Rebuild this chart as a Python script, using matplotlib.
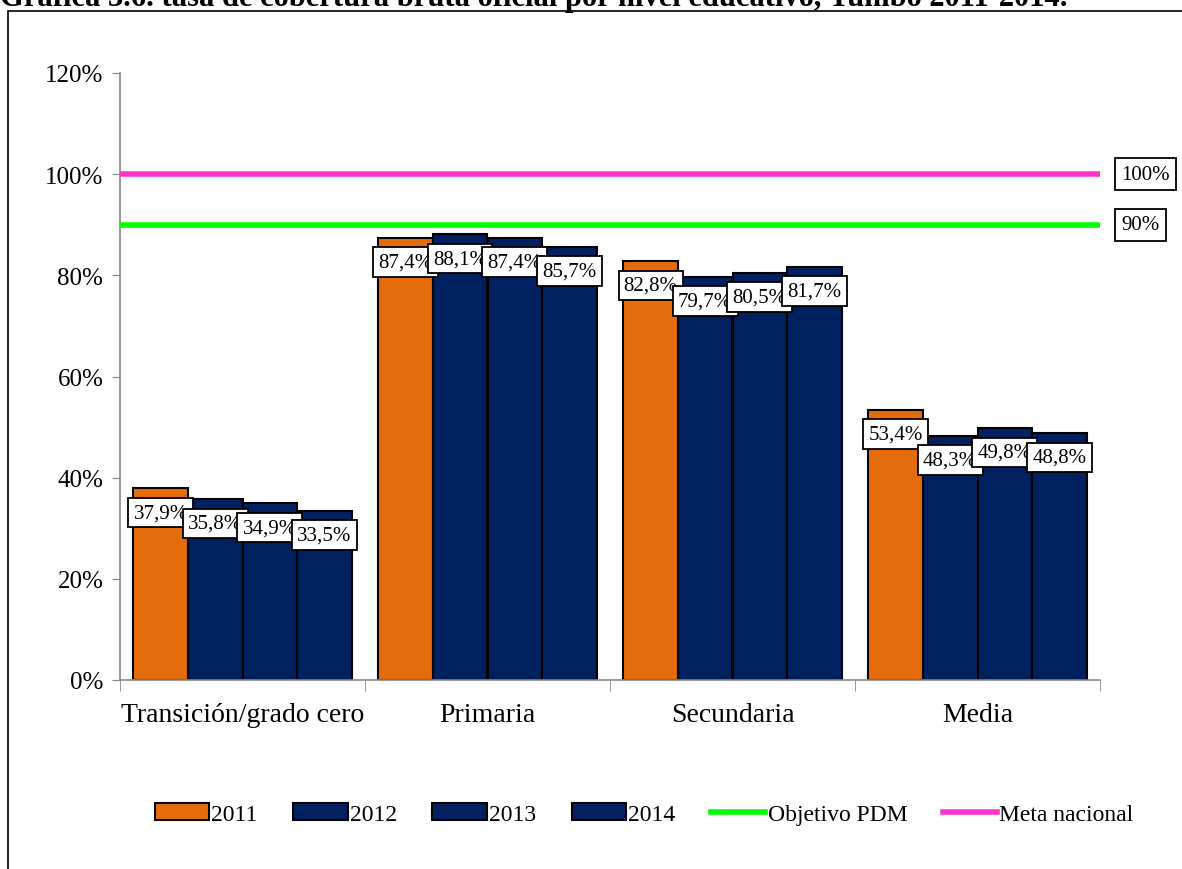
import numpy as np
import matplotlib.pyplot as plt
from matplotlib.patches import Rectangle

plt.rcParams['font.family'] = ['Liberation Serif', 'DejaVu Serif']

# DATA ############################################################

categories = ["Transición/grado cero", "Primaria", "Secundaria", "Media"]
years = ["2011", "2012", "2013", "2014"]

v2011 = [37.9, 87.4, 82.8, 53.4]
v2012 = [35.8, 88.1, 79.7, 48.3]
v2013 = [34.9, 87.4, 80.5, 49.8]
v2014 = [33.5, 85.7, 81.7, 48.8]

objetivo_pdm = 90.0
meta_nacional = 100.0

title = "Gráfica 3.6. tasa de cobertura bruta oficial por nivel educativo, Yumbo 2011-2014."

# STYLE ###########################################################

ORANGE = "#E46C0A"
NAVY = "#002060"
GREEN = "#00FF00"
MAGENTA = "#FF33CC"

series = [v2011, v2012, v2013, v2014]
colors = [ORANGE, NAVY, NAVY, NAVY]

# FIGURE ##########################################################

fig = plt.figure(figsize=(11.82, 8.70), dpi=100)
ax = fig.add_axes([120 / 1182, 1 - 681 / 870, 980 / 1182, 607 / 870])

# outer frame
fig.patches.append(Rectangle((8 / 1182, -0.05), 1.2, 1.05 - 12 / 870,
                             transform=fig.transFigure, fill=False,
                             edgecolor="black", linewidth=1.2))

# title is cut by the top edge, as in the source image
fig.text(0.0, 1 - 6 / 870, title, fontsize=22, fontweight="bold",
         ha="left", va="baseline")

x = np.arange(len(categories))
width = 0.89 / 4

handles = []
for i, (vals, col, yr) in enumerate(zip(series, colors, years)):
    pos = x - 0.445 + width * (i + 0.5)
    bars = ax.bar(pos, np.array(vals) / 100, width, color=col,
                  edgecolor="black", linewidth=1.5, label=yr, zorder=2)
    handles.append(bars)
    for b, v in zip(bars, vals):
        ax.annotate(f"{v:.1f}%".replace(".", ","),
                    (b.get_x() + b.get_width() / 2, b.get_height()),
                    xytext=(0, -17.5), textcoords="offset points",
                    ha="center", va="center", fontsize=15, zorder=5,
                    bbox=dict(boxstyle="square,pad=0.25", fc="white",
                              ec="black", lw=1.3))

# reference lines
l1 = ax.axhline(objetivo_pdm / 100, color=GREEN, linewidth=4, zorder=3,
                label="Objetivo PDM")
l2 = ax.axhline(meta_nacional / 100, color=MAGENTA, linewidth=4, zorder=3,
                label="Meta nacional")
handles += [l1, l2]

for v in [meta_nacional, objetivo_pdm]:
    ax.annotate(f"{v:.0f}%", (1, v / 100),
                xycoords=("axes fraction", "data"),
                xytext=(15.5, 0), textcoords="offset points",
                ha="left", va="center", fontsize=15,
                bbox=dict(boxstyle="square,pad=0.3", fc="white",
                          ec="black", lw=1.3), annotation_clip=False)

# AXES ############################################################

ax.set_xlim(-0.5, len(categories) - 0.5)
ax.set_ylim(0, 1.2)
yt = np.arange(0, 1.21, 0.2)
ax.set_yticks(yt)
ax.set_yticklabels([f"{int(round(t * 100))}%" for t in yt], fontsize=18)
ax.set_xticks(x)
ax.set_xticklabels(categories, fontsize=20)
ax.tick_params(axis="x", length=0, pad=16)
ax.set_xticks(np.arange(-0.5, len(categories), 1), minor=True)
ax.tick_params(axis="x", which="minor", length=8, color="#888888")
ax.tick_params(axis="y", length=6, color="#888888", pad=6)

for s in ["top", "right"]:
    ax.spines[s].set_visible(False)
for s in ["left", "bottom"]:
    ax.spines[s].set_color("#888888")
    ax.spines[s].set_linewidth(1.2)

fig.legend(handles, [h.get_label() for h in handles],
           loc="center", bbox_to_anchor=(0.545, 1 - 815 / 870), ncol=6,
           frameon=False, fontsize=17, handlelength=2.3, handleheight=0.75,
           handletextpad=0.1, columnspacing=1.5)

fig.savefig("out.png", dpi=100)
